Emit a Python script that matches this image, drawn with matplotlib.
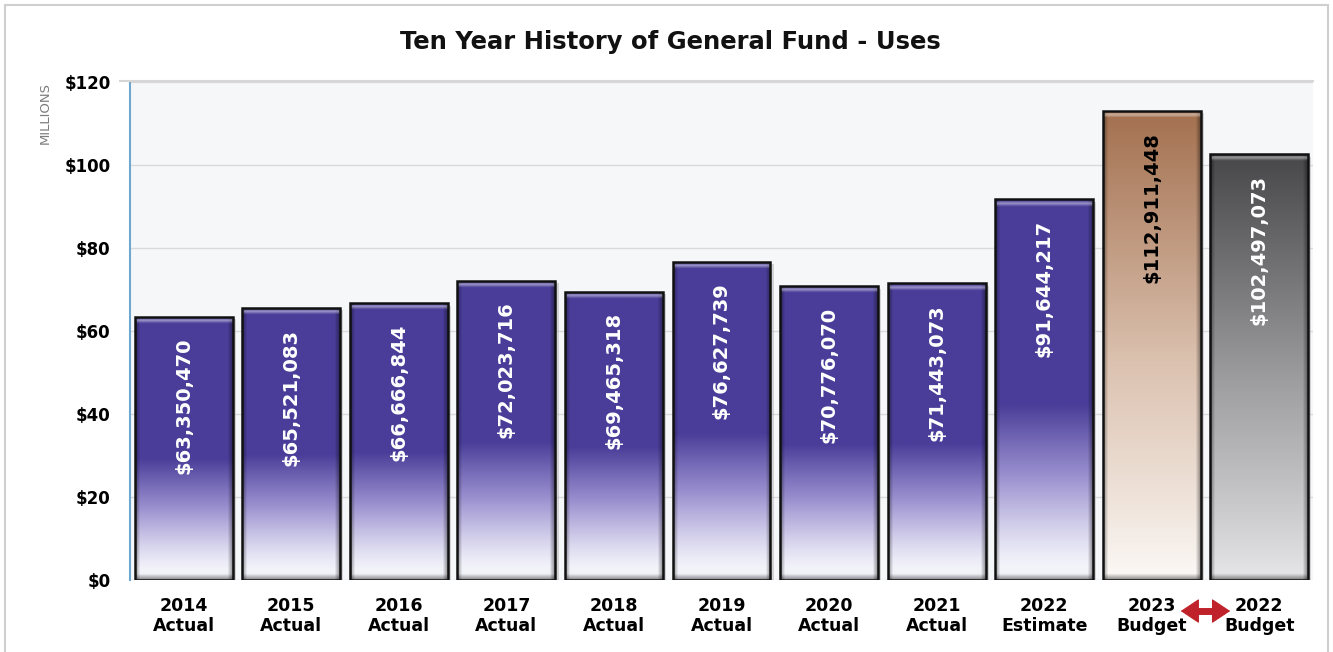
import numpy as np
import matplotlib
matplotlib.use("Agg")
import matplotlib.pyplot as plt
from matplotlib.patches import Rectangle, FancyArrowPatch
from matplotlib.ticker import FuncFormatter, MultipleLocator

plt.rcParams['font.family'] = ['DejaVu Sans']

# ---- data -------------------------------------------------------------
years = ["2014", "2015", "2016", "2017", "2018", "2019", "2020", "2021",
         "2022", "2023", "2022"]
kinds = ["Actual", "Actual", "Actual", "Actual", "Actual", "Actual",
         "Actual", "Actual", "Estimate", "Budget", "Budget"]
uses = [63350470, 65521083, 66666844, 72023716, 69465318, 76627739,
        70776070, 71443073, 91644217, 112911448, 102497073]
palette = ["purple"] * 9 + ["bronze", "graphite"]

title = "Ten Year History of General Fund - Uses"

# ---- colour ramps: bottom colour, mid colour, top colour ---------------
ramps = {
    "purple":   [(0.95, 0.95, 0.98), (0.60, 0.56, 0.81), (0.29, 0.24, 0.60)],
    "bronze":   [(0.99, 0.98, 0.97), (0.86, 0.76, 0.69), (0.64, 0.44, 0.31)],
    "graphite": [(0.91, 0.91, 0.92), (0.62, 0.62, 0.63), (0.28, 0.28, 0.29)],
}
label_color = {"purple": "white", "bronze": "black", "graphite": "white"}

fig = plt.figure(figsize=(13.33, 6.52), dpi=100)
ax = fig.add_axes([0.0975, 0.110, 0.8875, 0.765])

millions = np.array(uses) / 1e6
x = np.arange(len(uses))
width = 0.91

ax.set_xlim(-0.5, len(uses) - 0.5)
ax.set_ylim(0, 120)
ax.set_facecolor("#f6f7f9")

# horizontal grid
ax.yaxis.set_major_locator(MultipleLocator(20))
ax.grid(axis="y", color="#d9d9dc", linewidth=1.0, zorder=0)
ax.set_axisbelow(True)

# drop shadows
ax.bar(x + 0.03, millions, width=width, bottom=-0.6,
       color="#a9a9ad", alpha=0.45, linewidth=0, zorder=1)

bars = ax.bar(x, millions, width=width, facecolor="none",
              edgecolor="#111111", linewidth=1.8, zorder=3)


def ramp_color(stops, s):
    s = np.clip(s, 0, 1)[..., None]
    lo, mid, hi = [np.array(c) for c in stops]
    t1 = np.clip(s / 0.5, 0, 1)
    t2 = np.clip((s - 0.5) / 0.5, 0, 1)
    c = lo + (mid - lo) * t1
    c = c + (hi - mid) * t2
    return c


px_per_unit_y = ax.get_window_extent().height / 120.0
for rect, kind in zip(bars, palette):
    x0, w, h = rect.get_x(), rect.get_width(), rect.get_height()
    rows, cols = 400, 120
    yy = np.linspace(0, h, rows)[:, None] * np.ones((1, cols))
    xx = np.ones((rows, 1)) * np.linspace(0, 1, cols)[None, :]
    frac = yy / h
    if kind == "purple":
        s = np.clip((frac - 0.04) / 0.42, 0, 1) ** 1.2
    else:
        s = frac ** 0.9
    img = ramp_color(ramps[kind], s)
    # side bevel: darker near the left and right edges
    edge = np.minimum(xx, 1 - xx)
    shade = 1 - 0.4 * np.clip(1 - edge / 0.05, 0, 1)
    img = img * shade[..., None]
    # top bevel highlight and bottom bevel shadow (in pixels)
    dist_top = (h - yy) * px_per_unit_y
    dist_bot = yy * px_per_unit_y
    hl = np.clip(1 - np.abs(dist_top - 4) / 3, 0, 1) * 0.45
    img = img + (1 - img) * hl[..., None]
    sh = np.clip(1 - dist_bot / 6, 0, 1) * 0.45
    img = img * (1 - sh[..., None])
    im = ax.imshow(img[::-1], extent=(x0, x0 + w, 0, h), aspect="auto",
                   interpolation="bilinear", zorder=2)
    im.set_clip_path(rect)

# value labels, rotated, tucked under the top of each bar
for xi, val, v, kind in zip(x, millions, uses, palette):
    ax.text(xi, val - 5.0, f"${v:,.0f}", rotation=90, ha="center", va="top",
            fontsize=14, fontweight="bold", color=label_color[kind], zorder=5)

# axes styling
ax.yaxis.set_major_formatter(FuncFormatter(lambda v, p: f"${v:.0f}"))
ax.set_xticks(x)
ax.set_xticklabels([f"{y}\n{k}" for y, k in zip(years, kinds)],
                   fontsize=12.5, fontweight="bold", linespacing=1.15)
ax.tick_params(axis="x", length=0, pad=12)
ax.tick_params(axis="y", length=0, pad=14, labelsize=12)
for lab in ax.get_yticklabels():
    lab.set_fontweight("bold")
for side in ("top", "right", "bottom"):
    ax.spines[side].set_visible(False)
ax.spines["left"].set_color("#6fa7cf")
ax.spines["left"].set_linewidth(1.5)

fig.text(0.034, 0.875, "MILLIONS", rotation=90, ha="center", va="top",
         fontsize=9.5, color="#7d7d7d")

fig.text(0.503, 0.935, title, ha="center", va="center",
         fontsize=17.5, fontweight="bold", color="#111111")

# double-headed arrow between the two budget columns
arrow_red = "#c0222b"
ax.plot([9.33, 9.67], [-7.4, -7.4], color=arrow_red, linewidth=5,
        solid_capstyle="butt", clip_on=False, zorder=6)
arrow = FancyArrowPatch((9.27, -7.4), (9.73, -7.4),
                        arrowstyle="<|-|>,head_length=0.6,head_width=0.4",
                        mutation_scale=20, color=arrow_red, linewidth=0.8,
                        shrinkA=0, shrinkB=0,
                        transform=ax.transData, clip_on=False, zorder=6)
ax.add_patch(arrow)

# outer frame
fig.patches.append(Rectangle((0.004, -0.01), 0.992, 1.002, transform=fig.transFigure,
                             fill=False, edgecolor="#cfcfcf", linewidth=1.5))
fig.lines.append(plt.Line2D([0.09, 0.985], [0.876, 0.876], transform=fig.transFigure,
                            color="#d6d6d6", linewidth=1.5))

fig.savefig("out.png", dpi=100)
